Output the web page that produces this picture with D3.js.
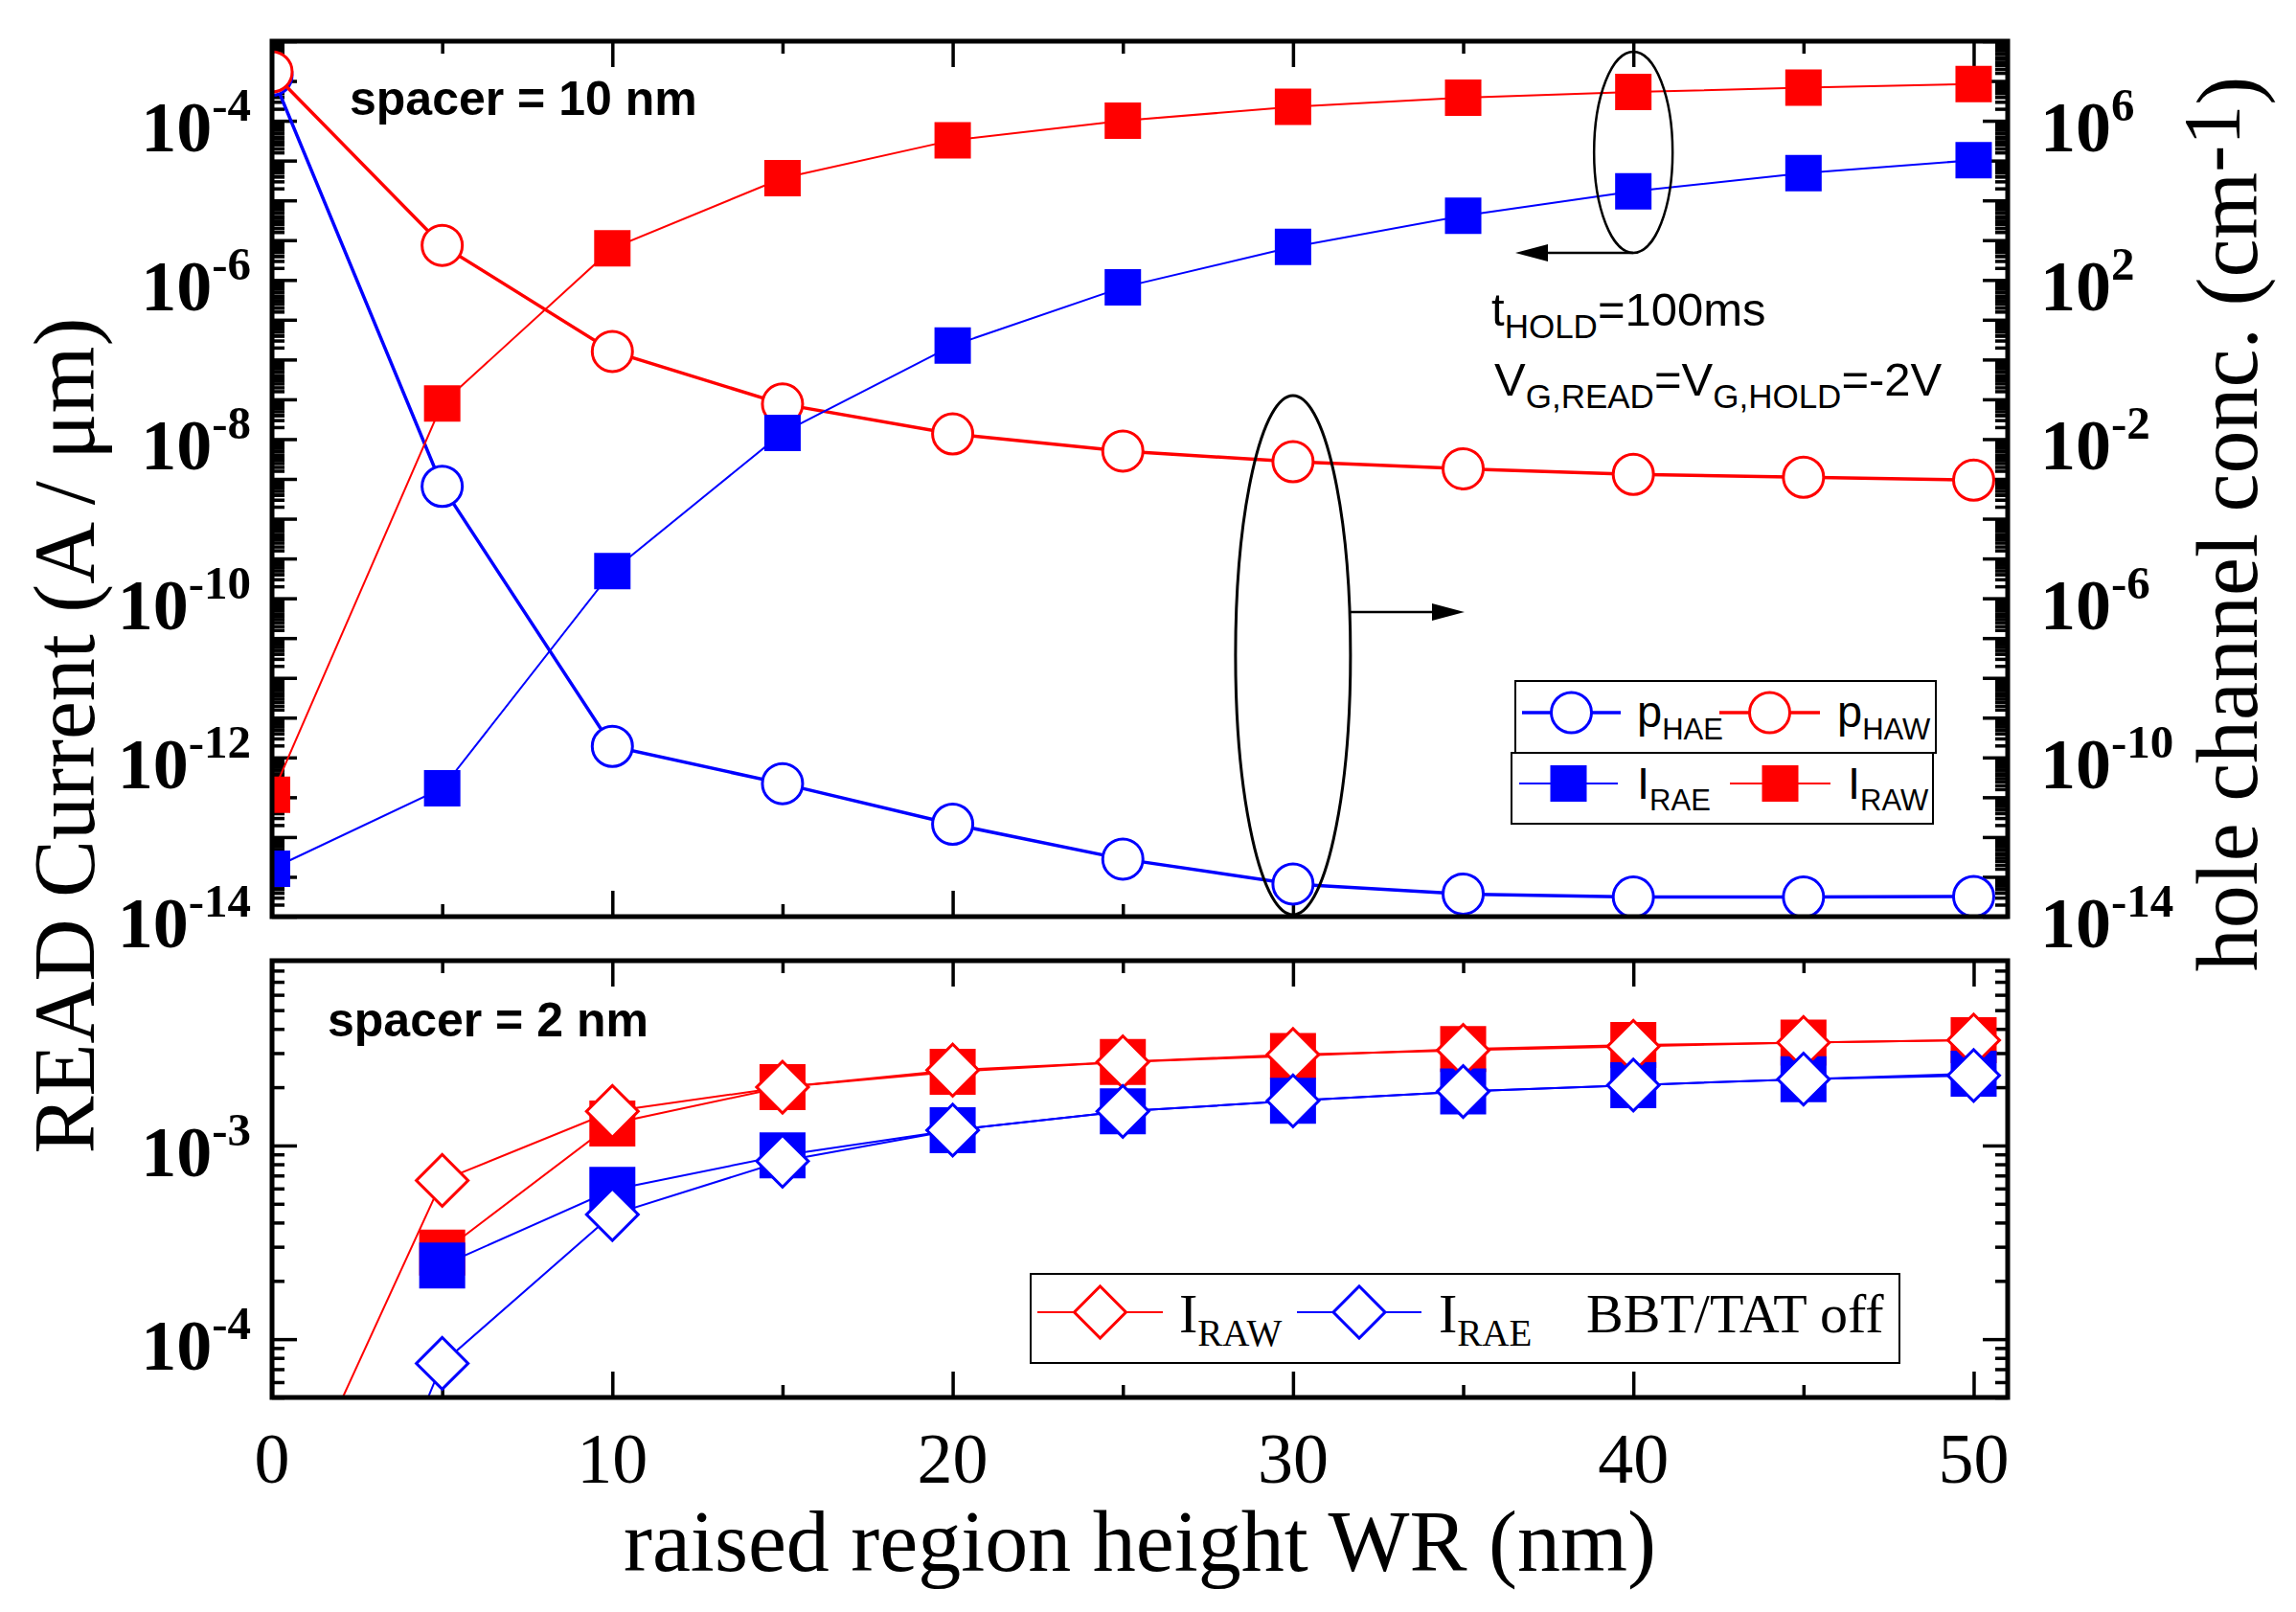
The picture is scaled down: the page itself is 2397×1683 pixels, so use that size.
<!DOCTYPE html>
<html>
<head>
<meta charset="utf-8">
<script src="https://cdn.jsdelivr.net/npm/d3@7"></script>
<style>body{margin:0;background:#fff}</style>
</head>
<body>
<script>
// raised region height WR (nm)
const wr = [0, 5, 10, 15, 20, 25, 30, 35, 40, 45, 50];

// spacer = 10 nm : hole channel conc. (right axis) and READ current (left axis)
const pHAE = [1.4e7, 6.5e-4, 1.9e-10, 2.2e-11, 2.1e-12, 2.8e-13, 6.6e-14, 3.7e-14, 3.1e-14, 3.1e-14, 3.2e-14];
const pHAW = [1.7e7, 7.4e2, 1.6, 0.076, 0.0135, 0.005, 0.0027, 0.0018, 0.0013, 0.0011, 0.00093];
const iRAW10 = [3.4e-13, 2.8e-8, 2.5e-6, 1.9e-5, 5.7e-5, 1.0e-4, 1.5e-4, 1.95e-4, 2.3e-4, 2.6e-4, 2.9e-4];
const iRAE10 = [4.0e-14, 4.1e-13, 2.2e-10, 1.2e-8, 1.5e-7, 8.1e-7, 2.6e-6, 6.4e-6, 1.3e-5, 2.2e-5, 3.2e-5];

// spacer = 2 nm
const iRAW2 = [null, 2.8e-4, 1.3e-3, 2.0e-3, 2.4e-3, 2.7e-3, 2.9e-3, 3.15e-3, 3.3e-3, 3.4e-3, 3.5e-3];
const iRAE2 = [null, 2.4e-4, 5.9e-4, 8.9e-4, 1.2e-3, 1.5e-3, 1.7e-3, 1.9e-3, 2.05e-3, 2.2e-3, 2.35e-3];
const iRAW2off = [8e-6, 6.6e-4, 1.5e-3, 2.0e-3, 2.45e-3, 2.7e-3, 2.95e-3, 3.1e-3, 3.25e-3, 3.4e-3, 3.5e-3];
const iRAE2off = [5.6e-7, 7.5e-5, 4.4e-4, 8.3e-4, 1.2e-3, 1.5e-3, 1.7e-3, 1.9e-3, 2.05e-3, 2.2e-3, 2.3e-3];

// tick labels
const xTicks = [0, 10, 20, 30, 40, 50];
const leftExp = [-4, -6, -8, -10, -12, -14];
const rightExp = [6, 2, -2, -6, -10, -14];
const bottomExp = [-3, -4];

const RED = "#ff0000", BLUE = "#0000ff";
const serif = "'Liberation Serif','Times New Roman',serif";
const sans = "'Liberation Sans',Arial,sans-serif";

const width = 2397, height = 1683;
const svg = d3.select("body").append("svg")
  .attr("width", width).attr("height", height)
  .attr("viewBox", [0, 0, width, height]);

const x = d3.scaleLinear([0, 51], [284, 2096]);
const yL = d3.scaleLog([1e-14, 1e-3], [957, 43]);
const yR = d3.scaleLog([1e-14, 1e8], [957, 43]);
const yB = d3.scaleLog([5e-5, 9e-3], [1459, 1003]);

const panels = [
  { id: "clipTop", y0: 43, y1: 957 },
  { id: "clipBot", y0: 1003, y1: 1459 }
];

const defs = svg.append("defs");
panels.forEach(p => {
  defs.append("clipPath").attr("id", p.id).append("rect")
    .attr("x", x(0)).attr("y", p.y0)
    .attr("width", x(51) - x(0)).attr("height", p.y1 - p.y0);
});

// text with sub/superscripts
function rich(g, parts, o) {
  const t = g.append("text")
    .attr("x", o.x).attr("y", o.y)
    .attr("font-family", o.font).attr("font-size", o.size)
    .attr("font-weight", o.weight || "normal")
    .attr("text-anchor", o.anchor || "start")
    .attr("fill", "#000");
  if (o.transform) t.attr("transform", o.transform);
  let shift = 0;
  parts.forEach(p => {
    const s = typeof p === "string" ? { t: p } : p;
    const target = s.dy || 0;
    t.append("tspan").attr("dy", target - shift)
      .attr("font-size", s.size || null).text(s.t);
    shift = target;
  });
  return t;
}

function logMinors(lo, hi, from, to) {
  const out = [];
  for (let k = lo; k <= hi; k++)
    for (let m = 2; m <= 9; m++) {
      const v = m * Math.pow(10, k);
      if (v >= from && v <= to) out.push(v);
    }
  return out;
}

function tickAxis(axis, scale, values, size, transform) {
  svg.append("g").attr("transform", transform)
    .call(axis(scale).tickValues(values).tickSize(size).tickSizeOuter(0).tickFormat(""))
    .call(a => a.select(".domain").remove())
    .call(a => a.selectAll("line").attr("stroke", "#000").attr("stroke-width", 3.5));
}

// ---------- ticks ----------
const xMaj = d3.range(0, 51, 10), xMin = d3.range(5, 50, 10);
panels.forEach(p => {
  tickAxis(d3.axisTop, x, xMaj, -27, `translate(0,${p.y0})`);
  tickAxis(d3.axisTop, x, xMin, -13, `translate(0,${p.y0})`);
  tickAxis(d3.axisBottom, x, xMaj, -27, `translate(0,${p.y1})`);
  tickAxis(d3.axisBottom, x, xMin, -13, `translate(0,${p.y1})`);
});

const rMaj = d3.range(-14, 9).map(k => Math.pow(10, k));
const rMin = logMinors(-14, 7, 1e-14, 1e8).concat(logMinors(-14, -4, 1e-14, 1e-3).map(v => yR.invert(yL(v))));
[[d3.axisLeft, x(0)], [d3.axisRight, x(51)]].forEach(([ax, px]) => {
  tickAxis(ax, yR, rMaj, -26, `translate(${px},0)`);
  tickAxis(ax, yR, rMin, -13, `translate(${px},0)`);
  tickAxis(ax, yB, [1e-4, 1e-3], -26, `translate(${px},0)`);
  tickAxis(ax, yB, logMinors(-5, -3, 5e-5, 9e-3), -13, `translate(${px},0)`);
});

// ---------- series ----------
function series(clip, ys, vals, o) {
  const g = svg.append("g").attr("clip-path", `url(#${clip})`);
  const pts = wr.map((w, i) => [w, vals[i]]).filter(d => d[1] != null);
  g.append("path").datum(pts)
    .attr("fill", "none").attr("stroke", o.color).attr("stroke-width", o.lw)
    .attr("d", d3.line().x(d => x(d[0])).y(d => ys(d[1])));
  g.selectAll(null).data(pts).join("path")
    .attr("transform", d => `translate(${x(d[0])},${ys(d[1])})${o.rot ? " rotate(45)" : ""}`)
    .attr("d", d3.symbol(o.type, o.area))
    .attr("fill", o.filled ? o.color : "#fff")
    .attr("stroke", o.filled ? "none" : o.color)
    .attr("stroke-width", 3);
}

const circ = { type: d3.symbolCircle, area: Math.PI * 21 * 21, lw: 3.5 };
const sqTop = { type: d3.symbolSquare, area: 38 * 38, lw: 2, filled: true };
const sqBot = { type: d3.symbolSquare, area: 48 * 48, lw: 2, filled: true };
const dia = { type: d3.symbolSquare, area: 38.2 * 38.2, lw: 2, rot: true };

series("clipTop", yR, pHAE, { ...circ, color: BLUE });
series("clipTop", yR, pHAW, { ...circ, color: RED });
series("clipTop", yL, iRAW10, { ...sqTop, color: RED });
series("clipTop", yL, iRAE10, { ...sqTop, color: BLUE });

series("clipBot", yB, iRAW2, { ...sqBot, color: RED });
series("clipBot", yB, iRAE2, { ...sqBot, color: BLUE });
series("clipBot", yB, iRAW2off, { ...dia, color: RED });
series("clipBot", yB, iRAE2off, { ...dia, color: BLUE });

// ---------- frames ----------
panels.forEach(p => {
  svg.append("rect").attr("x", x(0)).attr("y", p.y0)
    .attr("width", x(51) - x(0)).attr("height", p.y1 - p.y0)
    .attr("fill", "none").attr("stroke", "#000").attr("stroke-width", 5);
});

// ---------- tick labels ----------
const lab = svg.append("g");
xTicks.forEach(v => {
  lab.append("text").attr("x", x(v)).attr("y", 1548)
    .attr("text-anchor", "middle").attr("font-family", serif).attr("font-size", 74)
    .text(v);
});
function powLabel(e, y, px, anchor) {
  rich(lab, ["10", { t: String(e).replace("-", "-"), dy: -32, size: 49 }],
    { x: px, y: y + 32, font: serif, size: 74, weight: "bold", anchor });
}
leftExp.forEach(e => powLabel(e, yL(Math.pow(10, e)), 262, "end"));
rightExp.forEach(e => powLabel(e, yR(Math.pow(10, e)), 2130, "start"));
bottomExp.forEach(e => powLabel(e, yB(Math.pow(10, e)), 262, "end"));

// ---------- axis titles ----------
svg.append("text").attr("transform", "translate(98,768) rotate(-90)")
  .attr("text-anchor", "middle").attr("font-family", serif).attr("font-size", 90)
  .text("READ Current (A / μm)");
rich(svg, ["hole channel conc. (cm", { t: "-1", dy: -18, size: 84 }, ")"],
  { x: 0, y: 0, font: serif, size: 90, anchor: "middle", transform: "translate(2356,547) rotate(-90)" });
svg.append("text").attr("x", (x(0) + x(51)) / 2).attr("y", 1640)
  .attr("text-anchor", "middle").attr("font-family", serif).attr("font-size", 90)
  .text("raised region height WR (nm)");

// ---------- annotations ----------
svg.append("text").attr("x", 365).attr("y", 120).attr("font-family", sans)
  .attr("font-weight", "bold").attr("font-size", 50).text("spacer = 10 nm");
svg.append("text").attr("x", 342).attr("y", 1082).attr("font-family", sans)
  .attr("font-weight", "bold").attr("font-size", 50).text("spacer = 2 nm");

rich(svg, ["t", { t: "HOLD", dy: 13, size: 35 }, "=100ms"], { x: 1557, y: 340, font: sans, size: 49 });
rich(svg, ["V", { t: "G,READ", dy: 13, size: 35 }, "=V", { t: "G,HOLD", dy: 13, size: 35 }, "=-2V"],
  { x: 1560, y: 413, font: sans, size: 49 });

const ann = svg.append("g").attr("fill", "none").attr("stroke", "#000");
ann.append("ellipse").attr("cx", x(40)).attr("cy", 159).attr("rx", 41).attr("ry", 105).attr("stroke-width", 2.5);
ann.append("ellipse").attr("cx", x(30)).attr("cy", 684).attr("rx", 60).attr("ry", 271).attr("stroke-width", 3);

function arrow(x1, x2, y) {
  const dir = Math.sign(x2 - x1), L = 34, H = 9;
  ann.append("line").attr("x1", x1).attr("x2", x2 - dir * L).attr("y1", y).attr("y2", y).attr("stroke-width", 2.5);
  ann.append("path").attr("d", `M${x2},${y}L${x2 - dir * L},${y - H}L${x2 - dir * L},${y + H}Z`)
    .attr("fill", "#000").attr("stroke", "none");
}
arrow(x(40), 1582, 264);
arrow(x(30) + 60, 1529, 639);

// ---------- legends ----------
const leg = svg.append("g");
function legBox(x0, y0, w, h) {
  leg.append("rect").attr("x", x0).attr("y", y0).attr("width", w).attr("height", h)
    .attr("fill", "#fff").attr("stroke", "#000").attr("stroke-width", 2);
}
function legSample(x1, x2, y, o, color) {
  leg.append("line").attr("x1", x1).attr("x2", x2).attr("y1", y).attr("y2", y)
    .attr("stroke", color).attr("stroke-width", o.lw);
  leg.append("path").attr("transform", `translate(${(x1 + x2) / 2},${y})${o.rot ? " rotate(45)" : ""}`)
    .attr("d", d3.symbol(o.type, o.area))
    .attr("fill", o.filled ? color : "#fff").attr("stroke", o.filled ? "none" : color).attr("stroke-width", 3);
}
legBox(1582, 711, 439, 75);
legBox(1578, 786, 440, 74);
legSample(1589, 1692, 744, circ, BLUE);
legSample(1795, 1900, 744, circ, RED);
legSample(1586, 1689, 818, sqTop, BLUE);
legSample(1806, 1911, 818, sqTop, RED);
rich(leg, ["p", { t: "HAE", dy: 13, size: 31 }], { x: 1709, y: 759, font: sans, size: 47 });
rich(leg, ["p", { t: "HAW", dy: 13, size: 31 }], { x: 1918, y: 759, font: sans, size: 47 });
rich(leg, ["I", { t: "RAE", dy: 12, size: 31 }], { x: 1709, y: 834, font: sans, size: 47 });
rich(leg, ["I", { t: "RAW", dy: 12, size: 31 }], { x: 1929, y: 834, font: sans, size: 47 });

legBox(1076, 1330, 907, 93);
legSample(1083, 1214, 1370, dia, RED);
legSample(1354, 1484, 1370, dia, BLUE);
rich(leg, ["I", { t: "RAW", dy: 14, size: 39 }], { x: 1231, y: 1391, font: serif, size: 58 });
rich(leg, ["I", { t: "RAE", dy: 14, size: 39 }], { x: 1502, y: 1391, font: serif, size: 58 });
leg.append("text").attr("x", 1656).attr("y", 1391).attr("font-family", serif).attr("font-size", 58).text("BBT/TAT off");
</script>
</body>
</html>
